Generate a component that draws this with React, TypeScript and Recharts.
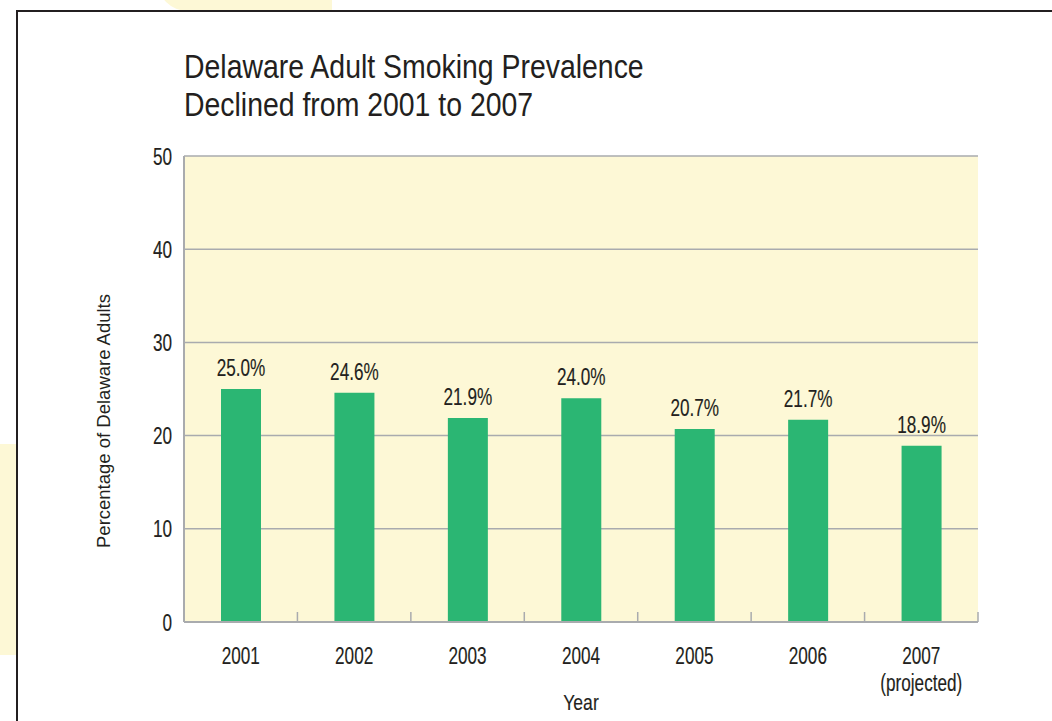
import React from 'react';
import { BarChart, Bar, XAxis, YAxis, CartesianGrid, LabelList } from 'recharts';

const years = ['2001', '2002', '2003', '2004', '2005', '2006', '2007'];
const yearNotes = ['', '', '', '', '', '', '(projected)'];
const prevalence = [25.0, 24.6, 21.9, 24.0, 20.7, 21.7, 18.9];
const yTicks = [0, 10, 20, 30, 40, 50];

const chartData = years.map((year, i) => ({
  year,
  note: yearNotes[i],
  value: prevalence[i],
}));

const FONT = "'Liberation Sans', Arial, Helvetica, sans-serif";
const INK = '#231f20';
const GRID = '#a9abae';
const PANEL = '#fdf8d6';
const GREEN = '#2bb673';

// Helvetica Condensed look: regular sans squeezed horizontally, slightly thickened
const CondText = ({
  x,
  y,
  size = 23.5,
  squeeze = 0.73,
  weight = 0.15,
  anchor = 'middle',
  children,
}: {
  x: number;
  y: number;
  size?: number;
  squeeze?: number;
  weight?: number;
  anchor?: 'start' | 'middle' | 'end';
  children: React.ReactNode;
}) => (
  <text
    transform={`translate(${x} ${y}) scale(${squeeze} 1)`}
    textAnchor={anchor}
    fontSize={size}
    fill={INK}
    stroke={INK}
    strokeWidth={weight}
    fontFamily={FONT}
  >
    {children}
  </text>
);

// year label plus a short upward tick on the right edge of each category slot
const YearTick = (props: any) => {
  const { x, y, payload, index, width } = props;
  const note = yearNotes[index];
  const edge = x + Number(width) / years.length / 2;
  return (
    <g>
      <line x1={edge} x2={edge} y1={y} y2={y - 10} stroke={GRID} strokeWidth={1.5} />
      <CondText x={x} y={y + 42}>{payload.value}</CondText>
      {note ? <CondText x={x} y={y + 69}>{note}</CondText> : null}
    </g>
  );
};

const ValueTick = (props: any) => {
  const { x, y, payload } = props;
  return (
    <CondText x={x} y={y + 8.5} anchor="end">
      {payload.value}
    </CondText>
  );
};

const BarValue = (props: any) => {
  const { x, y, width, value } = props;
  return (
    <CondText x={Number(x) + Number(width) / 2} y={Number(y) - 13}>
      {`${Number(value).toFixed(1)}%`}
    </CondText>
  );
};

export default function App() {
  return (
    <div
      style={{
        position: 'absolute',
        left: 0,
        top: 0,
        width: 1052,
        height: 721,
        overflow: 'hidden',
        background: '#fff',
      }}
    >
      {/* page decorations behind the frame */}
      <div
        style={{
          position: 'absolute',
          left: 157,
          top: -20,
          width: 175,
          height: 31,
          background: PANEL,
          borderBottomLeftRadius: 40,
        }}
      />
      <div
        style={{
          position: 'absolute',
          left: 0,
          top: 444,
          width: 16,
          height: 211,
          background: PANEL,
        }}
      />
      <div
        style={{
          position: 'absolute',
          left: 16,
          top: 10,
          width: 1100,
          height: 800,
          borderTop: `2px solid ${INK}`,
          borderLeft: `2px solid ${INK}`,
          background: '#fff',
        }}
      />

      <svg width={1052} height={140} style={{ position: 'absolute', left: 0, top: 0 }}>
        <CondText x={184} y={78} size={32.5} squeeze={0.875} weight={0} anchor="start">
          Delaware Adult Smoking Prevalence
        </CondText>
        <CondText x={184} y={116} size={32.5} squeeze={0.875} weight={0} anchor="start">
          Declined from 2001 to 2007
        </CondText>
      </svg>

      <div style={{ position: 'absolute', left: 0, top: 0 }}>
        <BarChart
          width={1052}
          height={721}
          data={chartData}
          margin={{ top: 156, right: 74, bottom: 0, left: 124 }}
        >
          <CartesianGrid
            vertical={false}
            stroke={GRID}
            strokeWidth={1.5}
            fill={PANEL}
            fillOpacity={1}
          />
          <XAxis
            dataKey="year"
            height={99}
            axisLine={{ stroke: GRID, strokeWidth: 2 }}
            tickLine={false}
            tickSize={0}
            tickMargin={0}
            interval={0}
            tick={<YearTick />}
            label={{
              content: () => (
                <CondText x={581} y={710} size={22.5} squeeze={0.78}>
                  Year
                </CondText>
              ),
            }}
          />
          <YAxis
            width={60}
            domain={[0, 50]}
            ticks={yTicks}
            axisLine={{ stroke: GRID, strokeWidth: 2 }}
            tickLine={false}
            tickSize={0}
            tickMargin={12}
            tick={<ValueTick />}
            label={{
              content: () => (
                <text
                  x={0}
                  y={0}
                  transform="translate(110 421) rotate(-90)"
                  textAnchor="middle"
                  fontSize={18.5}
                  fill={INK}
                  fontFamily={FONT}
                >
                  Percentage of Delaware Adults
                </text>
              ),
            }}
          />
          <Bar dataKey="value" fill={GREEN} barSize={40} isAnimationActive={false}>
            <LabelList dataKey="value" content={<BarValue />} />
          </Bar>
        </BarChart>
      </div>
    </div>
  );
}
